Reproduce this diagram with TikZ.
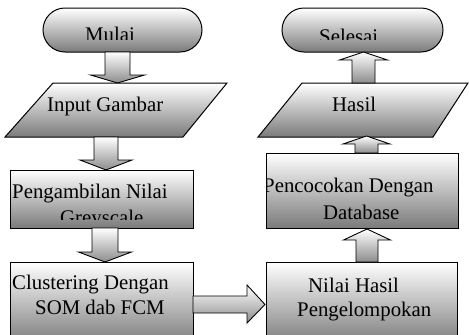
\documentclass[tikz,border=0pt]{standalone}
\usepackage{fontspec}
\setmainfont{Liberation Serif}
\tikzset{
  shadebox/.style={draw=black, line width=1pt, top color=white, bottom color=black!52},
  shadearrow/.style={draw=black, line width=0.9pt, top color=white, bottom color=black!45},
  lbl/.style={anchor=base west, inner sep=0pt, font=\fontsize{20.8}{25}\selectfont}
}
\newcommand\blkdown[6]{% cx, ytop, ybase, ytip, shafthalf, headhalf
  \path[shadearrow] (#1-#5,#2) -- (#1+#5,#2) -- (#1+#5,#3) -- (#1+#6,#3) -- (#1,#4) -- (#1-#6,#3) -- (#1-#5,#3) -- cycle;}
\newcommand\blkup[6]{% cx, ybottom, ybase, ytip, shafthalf, headhalf
  \path[shadearrow] (#1-#5,#2) -- (#1+#5,#2) -- (#1+#5,#3) -- (#1+#6,#3) -- (#1,#4) -- (#1-#6,#3) -- (#1-#5,#3) -- cycle;}
\begin{document}
\begin{tikzpicture}[x=1pt,y=-1pt]
\useasboundingbox (0,0) rectangle (469,335);
% shapes
\path[shadebox, rounded corners=22pt] (43,8) rectangle (202,52);
\coordinate (mulai) at (122.5,30);
\path[shadebox] (5,137) -- (53,83) -- (227,83) -- (183,137) -- cycle;
\coordinate (input) at (116,110);
\path[shadebox] (10,170) rectangle (193,228);
\coordinate (ambil) at (101.5,199);
\path[shadebox] (10,262) rectangle (193,345);
\coordinate (clus) at (101.5,300);
\path[shadebox] (266,262) rectangle (457,345);
\coordinate (nilai) at (361.5,300);
\path[shadebox] (266,153) rectangle (458,228);
\coordinate (cocok) at (362,190);
\path[shadebox] (258,137) -- (302,83) -- (468,83) -- (433,137) -- cycle;
\coordinate (hasil) at (363,110);
\path[shadebox, rounded corners=22pt] (282,8) rectangle (443,52);
\coordinate (selesai) at (362.5,30);
% block arrows
\blkdown{117.5}{52}{75}{83}{12.5}{27}
\blkdown{106}{137}{160}{170}{12}{26}
\blkdown{105}{228}{252}{262}{13}{26.5}
\path[shadearrow] (193,296) -- (247,296) -- (247,285) -- (265,304.5) -- (247,323) -- (247,313) -- (193,313) -- cycle;
\blkup{367}{262}{240}{229}{11}{23.5}
\blkup{366.5}{153}{144}{136}{11.5}{23.5}
\blkup{363.5}{83}{60}{52}{11.5}{24}
% texts
\begin{scope}
\clip (40,0) rectangle (210,39.5);
\node[lbl] (tmulai) at (85,41.5) {Mulai};
\end{scope}
\node[lbl] (tinput) at (47,111) {Input Gambar};
\node[lbl] (tambil) at (12,198.5) {Pengambilan Nilai};
\begin{scope}
\clip (10,150) rectangle (193,219);
\node[lbl] (tgrey) at (60,224) {Greyscale};
\end{scope}
\node[lbl] (tclus1) at (12,289) {Clustering Dengan};
\node[lbl] (tclus2) at (35,314) {SOM dab FCM};
\node[lbl] (tnilai1) at (308,292) {Nilai Hasil};
\node[lbl] (tnilai2) at (297,316) {Pengelompokan};
\begin{scope}
\clip (266.5,153) rectangle (458,228);
\node[lbl] (tcocok1) at (263,192) {Pencocokan Dengan};
\end{scope}
\node[lbl] (tcocok2) at (323,219) {Database};
\node[lbl] (thasil) at (332,111) {Hasil};
\begin{scope}
\clip (282,0) rectangle (443,39);
\node[lbl] (tselesai) at (319,43.5) {Selesai};
\end{scope}
\end{tikzpicture}
\end{document}
